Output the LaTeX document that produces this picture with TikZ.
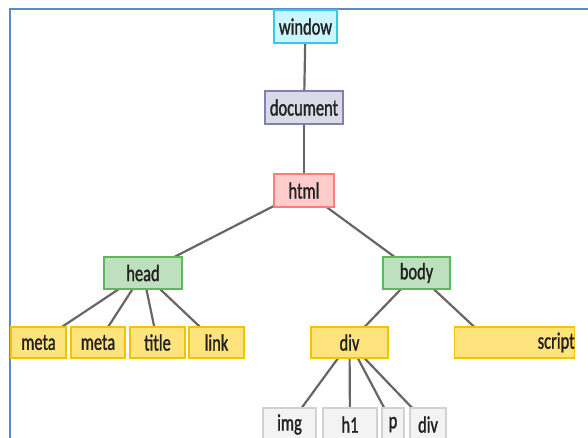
\documentclass[tikz,border=0pt]{standalone}
\usepackage{fontspec}
\setmainfont[FakeStretch=0.7,FakeBold=1.2]{Carlito}
\usetikzlibrary{backgrounds,calc}
\definecolor{txt}{HTML}{222222}
\definecolor{edgec}{HTML}{666666}
\definecolor{framec}{HTML}{5A8AC8}
\definecolor{cyanF}{HTML}{CCF6FF}\definecolor{cyanD}{HTML}{2ECBEB}
\definecolor{purF}{HTML}{D9D9E8}\definecolor{purD}{HTML}{8282B2}
\definecolor{redF}{HTML}{FFCCCC}\definecolor{redD}{HTML}{FF7C7C}
\definecolor{grnF}{HTML}{BFE0BF}\definecolor{grnD}{HTML}{5CB85C}
\definecolor{yelF}{HTML}{FFE47E}\definecolor{yelD}{HTML}{F2C400}
\definecolor{gryF}{HTML}{F3F3F3}\definecolor{gryD}{HTML}{D2D2D2}
\tikzset{
  box/.style={rectangle, inner sep=0pt, line width=1.4pt, text=txt,
    font=\fontsize{23.5}{26}\selectfont},
  cbox/.style={box, fill=cyanF, draw=cyanD},
  pbox/.style={box, fill=purF, draw=purD},
  rbox/.style={box, fill=redF, draw=redD},
  gbox/.style={box, fill=grnF, draw=grnD},
  ybox/.style={box, fill=yelF, draw=yelD},
  wbox/.style={box, fill=gryF, draw=gryD},
  link/.style={draw=edgec, line width=2.2pt},
}
\begin{document}
\begin{tikzpicture}[x=1pt,y=-1pt]
\useasboundingbox (0,0) rectangle (588,437);
\clip (0,0) rectangle (588,437);
\draw[framec, line width=2pt] (10,440) -- (10,9) -- (590,9);
\node[cbox, minimum width=63pt, minimum height=33pt] (window) at (305.5,26.5) {window};
\node[pbox, minimum width=78pt, minimum height=33pt] (document) at (304,107.5) {document};
\node[rbox, minimum width=60pt, minimum height=33pt] (html) at (304,190.5) {html};
\node[gbox, minimum width=78pt, minimum height=32pt] (head) at (143,273) {head};
\node[gbox, minimum width=67pt, minimum height=32pt] (body) at (416.5,273) {body};
\node[ybox, minimum width=55pt, minimum height=31pt] (meta1) at (38.5,342.5) {meta};
\node[ybox, minimum width=54pt, minimum height=31pt] (meta2) at (98,342.5) {meta};
\node[ybox, minimum width=55pt, minimum height=31pt] (title) at (157.5,342.5) {title};
\node[ybox, minimum width=55pt, minimum height=31pt] (linkn) at (216.5,342.5) {link};
\node[ybox, minimum width=77pt, minimum height=31pt] (div) at (349.5,342.5) {div};
\node[ybox, minimum height=31pt, anchor=west] (script) at (454,342.5) {\hspace{83pt}script\hspace{30pt}};
\node[wbox, minimum width=53pt, minimum height=33pt] (img) at (289.5,424.5) {img};
\node[wbox, minimum width=54pt, minimum height=33pt] (h1) at (350,424.5) {h1};
\node[wbox, minimum width=22pt, minimum height=33pt] (p) at (393,424.5) {p};
\node[wbox, minimum width=36pt, minimum height=33pt] (div2) at (428,424.5) {div};
\begin{pgfonlayer}{background}
\draw[link] (window.center) -- (document.center);
\draw[link] (document.center) -- (html.center);
\draw[link] (html.center) -- (head.center);
\draw[link] (html.center) -- (body.center);
\draw[link] (head.center) -- (meta1.center);
\draw[link] (head.center) -- (meta2.center);
\draw[link] (head.center) -- (title.center);
\draw[link] (head.center) -- (linkn.center);
\draw[link] (body.center) -- (div.center);
\draw[link] (body.center) -- ($(script.west)+(37,0)$);
\draw[link] (div.center) -- (img.center);
\draw[link] (div.center) -- (h1.center);
\draw[link] (div.center) -- (p.center);
\draw[link] (div.center) -- (div2.center);
\end{pgfonlayer}
\end{tikzpicture}
\end{document}
